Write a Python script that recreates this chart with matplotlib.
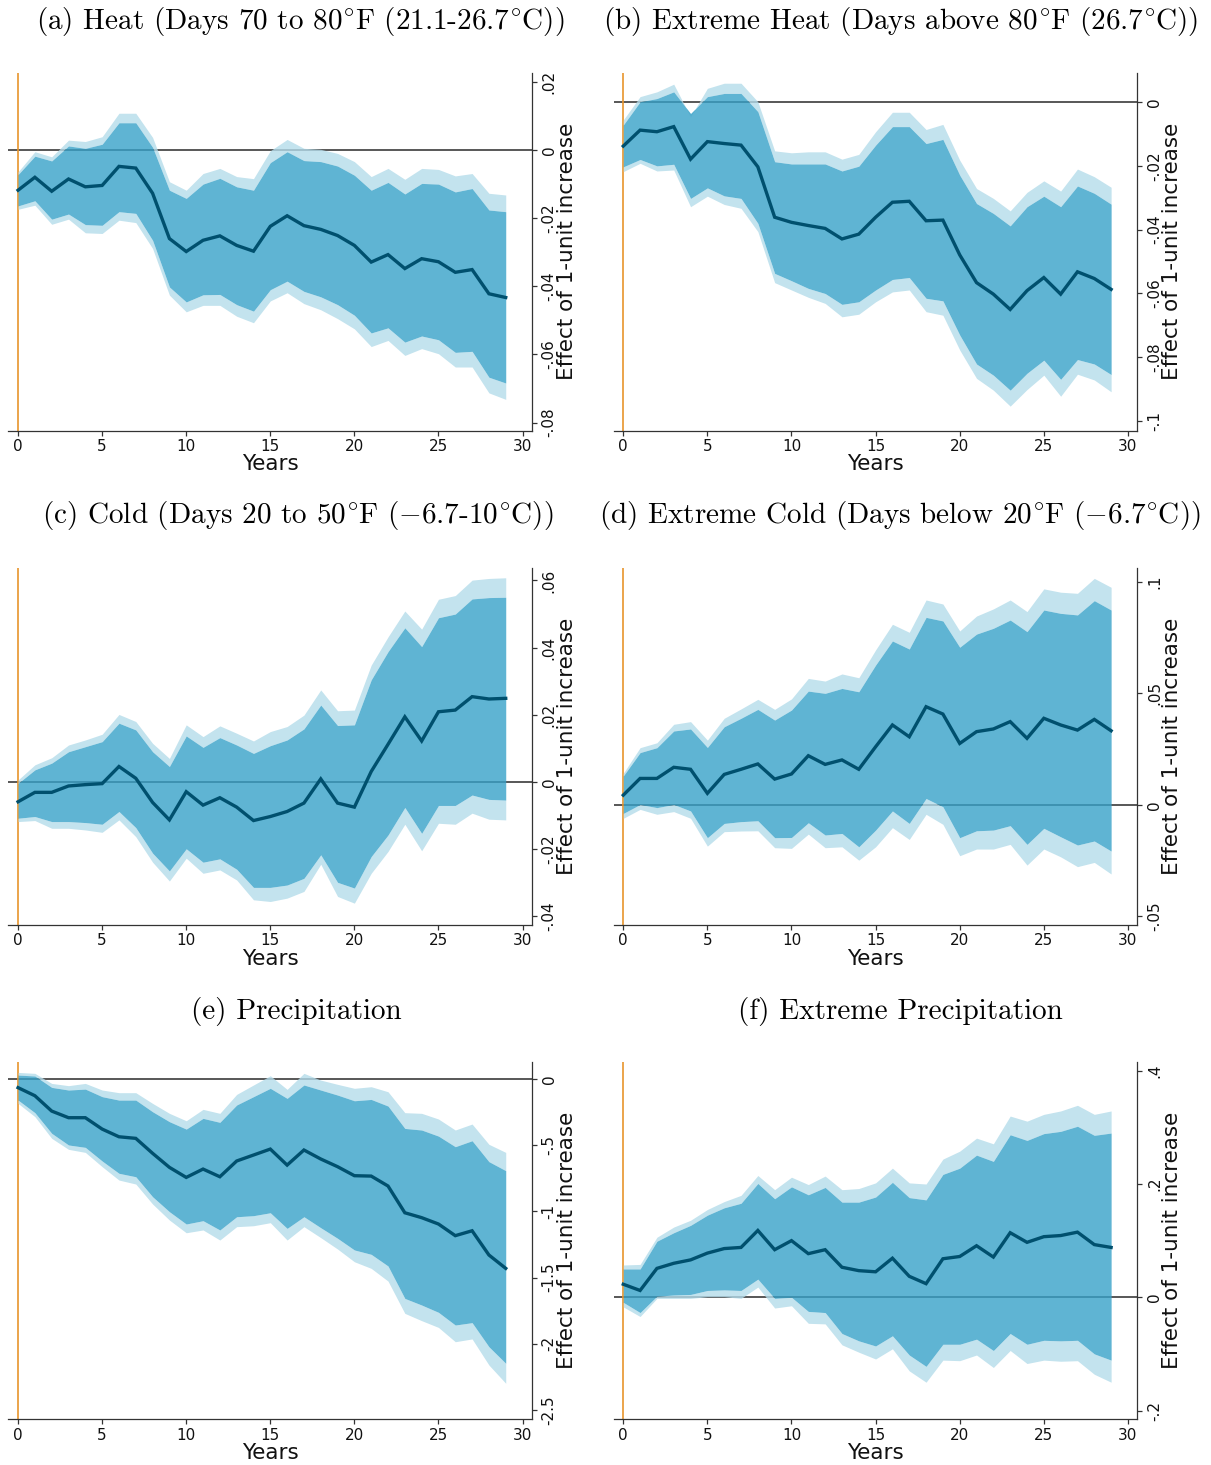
import matplotlib
matplotlib.use("Agg")
import matplotlib.pyplot as plt
import numpy as np

years = np.arange(30)

# (a) Heat: days 70-80F
heat_est = [-0.0118, -0.0080, -0.0121, -0.0085, -0.0108, -0.0104, -0.0048, -0.0053, -0.0127, -0.0260,
            -0.0298, -0.0265, -0.0252, -0.0280, -0.0297, -0.0224, -0.0193, -0.0222, -0.0233, -0.0251,
            -0.0280, -0.0329, -0.0307, -0.0348, -0.0319, -0.0328, -0.0359, -0.0351, -0.0422, -0.0433]
heat_hi90 = [-0.0072, -0.0018, -0.0032, 0.0012, 0.0005, 0.0017, 0.0080, 0.0080, 0.0008, -0.0118,
             -0.0142, -0.0100, -0.0083, -0.0108, -0.0118, -0.0037, -0.0005, -0.0031, -0.0034, -0.0047,
             -0.0074, -0.0118, -0.0095, -0.0129, -0.0098, -0.0100, -0.0123, -0.0113, -0.0176, -0.0181]
heat_hi95 = [-0.0064, -0.0005, -0.0020, 0.0029, 0.0025, 0.0039, 0.0108, 0.0108, 0.0037, -0.0093,
             -0.0118, -0.0069, -0.0054, -0.0078, -0.0084, -0.0002, 0.0031, 0.0005, 0.0002, -0.0010,
             -0.0034, -0.0078, -0.0054, -0.0086, -0.0054, -0.0057, -0.0076, -0.0069, -0.0127, -0.0132]
heat_lo90 = [-0.0164, -0.0149, -0.0203, -0.0188, -0.0219, -0.0221, -0.0181, -0.0186, -0.0265, -0.0402,
             -0.0446, -0.0425, -0.0424, -0.0454, -0.0473, -0.0410, -0.0385, -0.0415, -0.0431, -0.0454,
             -0.0485, -0.0537, -0.0522, -0.0564, -0.0546, -0.0557, -0.0594, -0.0591, -0.0667, -0.0684]
heat_lo95 = [-0.0174, -0.0162, -0.0218, -0.0203, -0.0243, -0.0245, -0.0206, -0.0213, -0.0289, -0.0426,
             -0.0475, -0.0456, -0.0456, -0.0488, -0.0507, -0.0443, -0.0419, -0.0451, -0.0469, -0.0495,
             -0.0525, -0.0577, -0.0559, -0.0603, -0.0583, -0.0598, -0.0637, -0.0637, -0.0713, -0.0732]

# (b) Extreme heat: days above 80F
xheat_est = [-0.0138, -0.0088, -0.0093, -0.0077, -0.0179, -0.0124, -0.0130, -0.0135, -0.0203, -0.0361,
             -0.0377, -0.0387, -0.0396, -0.0429, -0.0414, -0.0361, -0.0314, -0.0311, -0.0372, -0.0370,
             -0.0479, -0.0566, -0.0602, -0.0650, -0.0591, -0.0550, -0.0602, -0.0532, -0.0553, -0.0587]
xheat_hi90 = [-0.0072, 0.0001, 0.0011, 0.0032, -0.0036, 0.0017, 0.0027, 0.0027, -0.0030, -0.0187,
              -0.0194, -0.0194, -0.0194, -0.0216, -0.0201, -0.0135, -0.0077, -0.0077, -0.0130, -0.0117,
              -0.0229, -0.0318, -0.0349, -0.0388, -0.0328, -0.0295, -0.0328, -0.0263, -0.0286, -0.0320]
xheat_hi95 = [-0.0056, 0.0017, 0.0032, 0.0056, -0.0046, 0.0043, 0.0059, 0.0059, 0.0001, -0.0153,
              -0.0159, -0.0156, -0.0156, -0.0179, -0.0164, -0.0093, -0.0032, -0.0032, -0.0086, -0.0070,
              -0.0182, -0.0271, -0.0302, -0.0341, -0.0283, -0.0247, -0.0279, -0.0210, -0.0234, -0.0267]
xheat_lo90 = [-0.0203, -0.0180, -0.0200, -0.0195, -0.0302, -0.0269, -0.0294, -0.0302, -0.0380, -0.0537,
              -0.0560, -0.0584, -0.0600, -0.0634, -0.0626, -0.0589, -0.0556, -0.0550, -0.0615, -0.0623,
              -0.0730, -0.0821, -0.0856, -0.0903, -0.0850, -0.0809, -0.0869, -0.0807, -0.0821, -0.0854]
xheat_lo95 = [-0.0218, -0.0192, -0.0216, -0.0213, -0.0328, -0.0295, -0.0321, -0.0333, -0.0406, -0.0566,
              -0.0589, -0.0612, -0.0631, -0.0673, -0.0665, -0.0626, -0.0595, -0.0589, -0.0657, -0.0668,
              -0.0777, -0.0866, -0.0903, -0.0953, -0.0901, -0.0856, -0.0922, -0.0853, -0.0871, -0.0908]

# (c) Cold: days 20-50F
cold_est = [-0.0059, -0.0031, -0.0031, -0.0012, -0.0008, -0.0005, 0.0046, 0.0011, -0.0061, -0.0113,
            -0.0029, -0.0069, -0.0047, -0.0075, -0.0115, -0.0103, -0.0088, -0.0063, 0.0009, -0.0063,
            -0.0075, 0.0031, 0.0112, 0.0194, 0.0122, 0.0209, 0.0214, 0.0254, 0.0247, 0.0249]
cold_hi90 = [-0.0004, 0.0036, 0.0056, 0.0090, 0.0105, 0.0120, 0.0175, 0.0155, 0.0090, 0.0046,
             0.0137, 0.0103, 0.0132, 0.0110, 0.0085, 0.0108, 0.0125, 0.0158, 0.0229, 0.0168,
             0.0170, 0.0304, 0.0388, 0.0459, 0.0403, 0.0489, 0.0500, 0.0545, 0.0549, 0.0550]
cold_hi95 = [0.0006, 0.0051, 0.0072, 0.0110, 0.0125, 0.0142, 0.0201, 0.0180, 0.0115, 0.0070,
             0.0170, 0.0135, 0.0167, 0.0145, 0.0122, 0.0150, 0.0165, 0.0199, 0.0274, 0.0212,
             0.0214, 0.0348, 0.0432, 0.0509, 0.0455, 0.0544, 0.0555, 0.0601, 0.0606, 0.0608]
cold_lo90 = [-0.0108, -0.0103, -0.0118, -0.0118, -0.0121, -0.0126, -0.0088, -0.0136, -0.0212, -0.0265,
             -0.0199, -0.0239, -0.0229, -0.0260, -0.0314, -0.0314, -0.0307, -0.0287, -0.0217, -0.0299,
             -0.0316, -0.0222, -0.0158, -0.0076, -0.0153, -0.0070, -0.0070, -0.0039, -0.0052, -0.0054]
cold_lo95 = [-0.0118, -0.0115, -0.0138, -0.0138, -0.0143, -0.0150, -0.0113, -0.0163, -0.0239, -0.0295,
             -0.0227, -0.0272, -0.0262, -0.0292, -0.0351, -0.0356, -0.0346, -0.0326, -0.0245, -0.0341,
             -0.0361, -0.0272, -0.0207, -0.0126, -0.0205, -0.0123, -0.0126, -0.0093, -0.0111, -0.0113]

# (d) Extreme cold: days below 20F
xcold_est = [0.0043, 0.0118, 0.0118, 0.0168, 0.0159, 0.0051, 0.0136, 0.0159, 0.0183, 0.0115,
             0.0138, 0.0220, 0.0181, 0.0201, 0.0159, 0.0260, 0.0358, 0.0305, 0.0440, 0.0407,
             0.0275, 0.0328, 0.0340, 0.0373, 0.0298, 0.0388, 0.0358, 0.0335, 0.0383, 0.0332]
xcold_hi90 = [0.0129, 0.0234, 0.0256, 0.0331, 0.0340, 0.0257, 0.0350, 0.0388, 0.0428, 0.0380,
              0.0425, 0.0510, 0.0500, 0.0522, 0.0507, 0.0627, 0.0735, 0.0699, 0.0841, 0.0825,
              0.0707, 0.0766, 0.0792, 0.0829, 0.0777, 0.0874, 0.0859, 0.0852, 0.0916, 0.0874]
xcold_hi95 = [0.0141, 0.0256, 0.0278, 0.0361, 0.0373, 0.0290, 0.0388, 0.0430, 0.0473, 0.0428,
              0.0475, 0.0567, 0.0555, 0.0587, 0.0570, 0.0695, 0.0810, 0.0774, 0.0919, 0.0901,
              0.0780, 0.0847, 0.0879, 0.0919, 0.0867, 0.0969, 0.0954, 0.0949, 0.1016, 0.0976]
xcold_lo90 = [-0.0039, 0.0001, -0.0013, 0.0001, -0.0028, -0.0148, -0.0084, -0.0076, -0.0072, -0.0148,
              -0.0147, -0.0081, -0.0136, -0.0129, -0.0189, -0.0114, -0.0028, -0.0084, 0.0028, -0.0009,
              -0.0148, -0.0117, -0.0114, -0.0094, -0.0178, -0.0106, -0.0144, -0.0181, -0.0163, -0.0208]
xcold_lo95 = [-0.0061, -0.0021, -0.0043, -0.0031, -0.0061, -0.0186, -0.0121, -0.0118, -0.0117, -0.0193,
              -0.0196, -0.0132, -0.0193, -0.0189, -0.0249, -0.0189, -0.0103, -0.0156, -0.0043, -0.0088,
              -0.0229, -0.0199, -0.0199, -0.0178, -0.0271, -0.0199, -0.0234, -0.0278, -0.0259, -0.0311]

# (e) Precipitation
prec_est = [-0.065, -0.126, -0.242, -0.292, -0.292, -0.378, -0.436, -0.448, -0.561, -0.667,
            -0.743, -0.680, -0.738, -0.619, -0.574, -0.529, -0.650, -0.536, -0.604, -0.662,
            -0.730, -0.733, -0.808, -1.010, -1.047, -1.095, -1.183, -1.146, -1.329, -1.430]
prec_hi90 = [0.030, 0.023, -0.063, -0.083, -0.076, -0.133, -0.159, -0.159, -0.247, -0.322,
             -0.378, -0.297, -0.327, -0.196, -0.133, -0.070, -0.146, -0.045, -0.083, -0.121,
             -0.164, -0.154, -0.204, -0.373, -0.385, -0.431, -0.511, -0.466, -0.624, -0.692]
prec_hi95 = [0.050, 0.043, -0.033, -0.050, -0.033, -0.083, -0.103, -0.103, -0.184, -0.259,
             -0.315, -0.229, -0.259, -0.116, -0.045, 0.025, -0.078, 0.043, -0.008, -0.040,
             -0.070, -0.058, -0.096, -0.254, -0.259, -0.302, -0.385, -0.340, -0.493, -0.554]
prec_lo90 = [-0.159, -0.254, -0.410, -0.498, -0.516, -0.619, -0.712, -0.738, -0.889, -1.002,
             -1.095, -1.070, -1.140, -1.040, -1.032, -1.010, -1.128, -1.040, -1.123, -1.203,
             -1.291, -1.324, -1.412, -1.657, -1.707, -1.762, -1.858, -1.840, -2.022, -2.147]
prec_lo95 = [-0.184, -0.284, -0.448, -0.531, -0.554, -0.662, -0.763, -0.793, -0.944, -1.065,
             -1.161, -1.140, -1.216, -1.115, -1.108, -1.085, -1.216, -1.115, -1.198, -1.284,
             -1.380, -1.430, -1.526, -1.770, -1.825, -1.876, -1.984, -1.963, -2.160, -2.298]

# (f) Extreme precipitation
xprec_est = [0.023, 0.012, 0.051, 0.060, 0.066, 0.078, 0.086, 0.088, 0.118, 0.084,
             0.100, 0.077, 0.084, 0.053, 0.047, 0.045, 0.069, 0.037, 0.024, 0.068,
             0.072, 0.091, 0.071, 0.114, 0.097, 0.107, 0.109, 0.115, 0.093, 0.088]
xprec_hi90 = [0.050, 0.050, 0.099, 0.114, 0.127, 0.145, 0.158, 0.166, 0.201, 0.174,
              0.195, 0.181, 0.194, 0.168, 0.168, 0.177, 0.203, 0.176, 0.172, 0.217,
              0.228, 0.251, 0.240, 0.287, 0.277, 0.289, 0.293, 0.302, 0.286, 0.290]
xprec_hi95 = [0.057, 0.058, 0.106, 0.124, 0.136, 0.155, 0.169, 0.180, 0.215, 0.190,
              0.212, 0.199, 0.214, 0.190, 0.192, 0.202, 0.228, 0.202, 0.200, 0.244,
              0.258, 0.281, 0.271, 0.320, 0.311, 0.323, 0.329, 0.339, 0.323, 0.329]
xprec_lo90 = [-0.009, -0.027, 0.002, 0.004, 0.005, 0.012, 0.013, 0.012, 0.032, -0.002,
              0.000, -0.025, -0.027, -0.064, -0.077, -0.086, -0.068, -0.102, -0.122, -0.083,
              -0.083, -0.074, -0.094, -0.064, -0.083, -0.076, -0.077, -0.076, -0.100, -0.111]
xprec_lo95 = [-0.017, -0.034, -0.002, -0.002, -0.002, 0.001, 0.001, -0.002, 0.018, -0.019,
              -0.015, -0.046, -0.047, -0.084, -0.097, -0.109, -0.091, -0.130, -0.150, -0.111,
              -0.112, -0.102, -0.124, -0.094, -0.117, -0.111, -0.113, -0.112, -0.136, -0.150]

DEG_F = r"^{\!\circ}\!\mathrm{F}"
DEG_C = r"^{\!\circ}\!\mathrm{C}"
titles = [
    r"(a) Heat (Days 70 to $80" + DEG_F + r"$ (21.1-$26.7" + DEG_C + r"$))",
    r"(b) Extreme Heat (Days above $80" + DEG_F + r"$ ($26.7" + DEG_C + r"$))",
    r"(c) Cold (Days 20 to $50" + DEG_F + r"$ ($-6.7$-$10" + DEG_C + r"$))",
    r"(d) Extreme Cold (Days below $20" + DEG_F + r"$ ($-6.7" + DEG_C + r"$))",
    "(e) Precipitation",
    "(f) Extreme Precipitation",
]

ytick_vals = [
    [0.02, 0.0, -0.02, -0.04, -0.06, -0.08],
    [0.0, -0.02, -0.04, -0.06, -0.08, -0.1],
    [0.06, 0.04, 0.02, 0.0, -0.02, -0.04],
    [0.1, 0.05, 0.0, -0.05],
    [0.0, -0.5, -1.0, -1.5, -2.0, -2.5],
    [0.4, 0.2, 0.0, -0.2],
]
ytick_text = [
    [".02", "0", "-.02", "-.04", "-.06", "-.08"],
    ["0", "-.02", "-.04", "-.06", "-.08", "-.1"],
    [".06", ".04", ".02", "0", "-.02", "-.04"],
    [".1", ".05", "0", "-.05"],
    ["0", "-.5", "-1", "-1.5", "-2", "-2.5"],
    [".4", ".2", "0", "-.2"],
]
ylims = [(-0.0824, 0.0227), (-0.103, 0.0092), (-0.0426, 0.0638),
         (-0.054, 0.1064), (-2.570, 0.131), (-0.2155, 0.416)]

series = [
    (heat_est, heat_lo90, heat_hi90, heat_lo95, heat_hi95),
    (xheat_est, xheat_lo90, xheat_hi90, xheat_lo95, xheat_hi95),
    (cold_est, cold_lo90, cold_hi90, cold_lo95, cold_hi95),
    (xcold_est, xcold_lo90, xcold_hi90, xcold_lo95, xcold_hi95),
    (prec_est, prec_lo90, prec_hi90, prec_lo95, prec_hi95),
    (xprec_est, xprec_lo90, xprec_hi90, xprec_lo95, xprec_hi95),
]

W, H = 1211, 1465
fig = plt.figure(figsize=(W / 100, H / 100), dpi=100)

col_left = [8.4, 613.6]
col_right = [531.8, 1137.2]
row_top = [72.7, 567.7, 1061.7]
row_bot = [430.7, 925.0, 1419.3]
title_cx = [300, 901, 298, 900, 296, 900]
title_y = [22, 516, 1011]

band_light = (180 / 255, 220 / 255, 234 / 255)
band_dark = (55 / 255, 161 / 255, 200 / 255)
line_col = "#00506e"
axis_col = "#333333"
orange = "#e8952c"

for i, (est, lo90, hi90, lo95, hi95) in enumerate(series):
    r, c = divmod(i, 2)
    l, rr = col_left[c], col_right[c]
    t, b = row_top[r], row_bot[r]
    ax = fig.add_axes([l / W, 1 - b / H, (rr - l) / W, (b - t) / H])

    ax.axhline(0, color="#2a2a2a", lw=1.1, zorder=1)
    ax.axvline(0, color=orange, lw=1.2, zorder=1)

    ax.fill_between(years, hi90, hi95, color=band_light, alpha=0.8, lw=0, zorder=2)
    ax.fill_between(years, lo95, lo90, color=band_light, alpha=0.8, lw=0, zorder=2)
    ax.fill_between(years, lo90, hi90, color=band_dark, alpha=0.8, lw=0, zorder=3)
    ax.plot(years, est, color=line_col, lw=2.4, zorder=4, solid_joinstyle="miter")

    ax.set_xlim(-0.575, 30.55)
    ax.set_ylim(*ylims[i])

    for side in ("left", "top"):
        ax.spines[side].set_visible(False)
    for side in ("right", "bottom"):
        ax.spines[side].set_color(axis_col)
        ax.spines[side].set_linewidth(0.9)

    ax.yaxis.tick_right()
    ax.yaxis.set_label_position("right")
    ax.set_xticks(range(0, 31, 5))
    ax.set_yticks(ytick_vals[i])
    ax.set_yticklabels(ytick_text[i])
    ax.tick_params(axis="both", direction="out", length=3.6, width=0.9,
                   color=axis_col, labelsize=11, labelcolor="#111111")
    ax.tick_params(axis="x", pad=2.5)
    ax.tick_params(axis="y", pad=3.5)
    for lbl in ax.get_yticklabels():
        lbl.set_rotation(90)
        lbl.set_va("center")
        lbl.set_ha("left")

    ax.set_xlabel("Years", fontsize=15.5, color="#111111")
    ax.xaxis.label.set_va("center")
    ax.xaxis.set_label_coords(0.5, -0.094)
    ax.set_ylabel("Effect of 1-unit increase", fontsize=15.5, color="#111111")
    ax.yaxis.label.set_va("center")
    ax.yaxis.set_label_coords(1.0666, 0.5)

    fig.text(title_cx[i] / W, 1 - title_y[r] / H, titles[i], ha="center", va="center",
             fontsize=21, family="cmr10", math_fontfamily="cm")

fig.savefig("out.png", dpi=100)
